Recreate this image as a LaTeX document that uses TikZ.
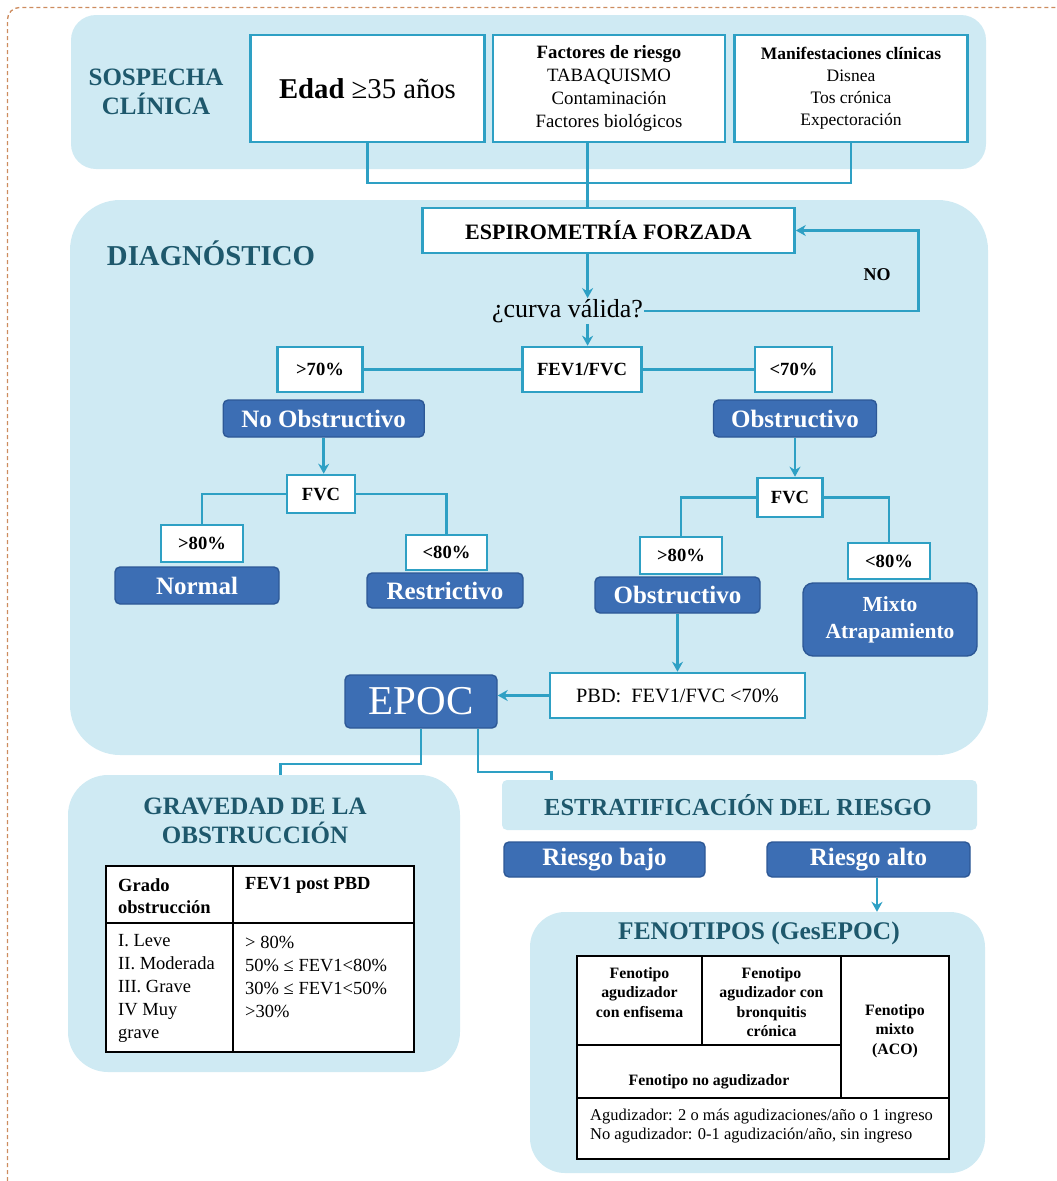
\documentclass[tikz,border=0pt]{standalone}
\usepackage{fontspec}
\setmainfont{Liberation Serif}
\usetikzlibrary{arrows.meta}
\newcommand\fsz[2]{\fontsize{#1}{#2}\selectfont}
\definecolor{panelc}{RGB}{207,234,243}
\definecolor{tealc}{RGB}{46,160,196}
\definecolor{dbluec}{RGB}{60,110,180}
\definecolor{dblueb}{RGB}{45,88,150}
\definecolor{hdrc}{RGB}{30,88,108}
\definecolor{dashc}{RGB}{205,140,95}
\begin{document}
\begin{tikzpicture}[x=1pt,y=-1pt,
  panel/.style={fill=panelc, draw=none, inner sep=0pt},
  wbox/.style={draw=tealc, line width=2.6pt, fill=white, inner sep=0pt, align=center},
  bbox/.style={fill=dbluec, draw=dblueb, line width=1.4pt, rounded corners=5pt,
    text=white, inner sep=0pt, align=center, font=\bfseries\fsz{25}{29}},
  conn/.style={draw=tealc, line width=2.6pt},
  arr/.style={conn, -{Stealth[length=10pt,width=11pt]}},
  hdr/.style={text=hdrc, inner sep=0pt, align=center},
  pct/.style={font=\bfseries\fsz{18.6}{22}},
  tabline/.style={draw=black, line width=2pt},
  ft/.style={font=\bfseries\fsz{15.8}{19.3}, align=center, inner sep=0pt},
  cellt/.style={inner sep=0pt, align=left, anchor=west}]

\useasboundingbox (0,0) rectangle (1057,1181);

% outer dashed frame (top and left edges)
\draw[dashc, line width=1.3pt, dash pattern=on 4pt off 3pt, rounded corners=12pt]
  (7.5,1181) -- (7.5,7.5) -- (1057,7.5);

% background panels
\node[panel, minimum width=915pt, minimum height=154pt, rounded corners=25pt] (psos) at (528.5,92) {};
\node[panel, minimum width=918pt, minimum height=555pt, rounded corners=50pt] (pdiag) at (529,477.5) {};
\node[panel, minimum width=392pt, minimum height=297pt, rounded corners=40pt] (pgrav) at (264,923.5) {};
\node[panel, minimum width=475pt, minimum height=50pt, rounded corners=5pt] (pestr) at (739.5,805) {};
\node[panel, minimum width=455pt, minimum height=261pt, rounded corners=35pt] (pfen) at (757.5,1042.5) {};

% section headings
\node[hdr, font=\bfseries\fsz{25}{29}] (tsos) at (156,92) {SOSPECHA\\CLÍNICA};
\node[hdr, font=\bfseries\fsz{28.8}{34}] (tdiag) at (211,253) {DIAGNÓSTICO};
\node[hdr, font=\bfseries\fsz{25}{29}] (tgrav) at (255,820.5) {GRAVEDAD DE LA\\OBSTRUCCIÓN};
\node[hdr, font=\bfseries\fsz{24.5}{28}] (testr) at (738,805) {ESTRATIFICACIÓN DEL RIESGO};
\node[hdr, font=\bfseries\fsz{25.4}{30}] (tfen) at (759,933) {FENOTIPOS (GesEPOC)};

% clinical suspicion boxes
\node[wbox, minimum width=234pt, minimum height=107pt, font=\fsz{28.7}{34}] (edad) at (367.5,88.5)
  {\textbf{Edad} ≥35 años};
\node[wbox, minimum width=232pt, minimum height=107pt, font=\fsz{18.8}{23}] (riesgo) at (609,88.5)
  {\textbf{Factores de riesgo}\\TABAQUISMO\\Contaminación\\Factores biológicos};
\node[wbox, minimum width=233pt, minimum height=107pt, font=\fsz{17.5}{22}] (manif) at (851,88.5)
  {\textbf{Manifestaciones clínicas}\\Disnea\\Tos crónica\\Expectoración};

% spirometry and validity check
\node[wbox, minimum width=372pt, minimum height=45pt, font=\bfseries\fsz{22}{26}] (esp) at (608.5,230.5)
  {ESPIROMETRÍA FORZADA};
\node[inner sep=1pt, font=\fsz{26}{30}] (curva) at (567.5,311) {¿curva válida?};
\node[font=\bfseries\fsz{18}{20}, inner sep=0pt] (nolab) at (877,275) {NO};

\coordinate (trunk) at (587.6,183);
\coordinate (loopx) at (918.5,0);
\draw[conn] (edad.south) -- (edad.south |- trunk) -| (manif.south);
\draw[conn] (riesgo.south -| trunk) -- (esp.north -| trunk);
\draw[arr] (esp.south -| trunk) -- (curva.north -| trunk);
\draw[arr] (curva.east) -- (curva.east -| loopx) -- (esp.east -| loopx) -- (esp.east);

% FEV1/FVC ratio
\node[wbox, pct, minimum width=119pt, minimum height=45pt] (fev) at (582,369.5) {FEV1/FVC};
\node[wbox, pct, minimum width=85pt, minimum height=45pt] (p70) at (320,369.5) {>70\%};
\node[wbox, pct, minimum width=77pt, minimum height=45pt] (m70) at (793.5,369.5) {<70\%};
\draw[arr] (curva.south -| trunk) -- (fev.north -| trunk);
\draw[conn] (fev.west) -- (p70.east);
\draw[conn] (fev.east) -- (m70.west);

\node[bbox, minimum width=201pt, minimum height=37pt] (nob) at (323.7,418.5) {No Obstructivo};
\node[bbox, minimum width=163pt, minimum height=37pt] (obs) at (795,418.5) {Obstructivo};

% FVC branches
\node[wbox, pct, minimum width=68pt, minimum height=38pt] (fvcL) at (321,494) {FVC};
\node[wbox, pct, minimum width=65pt, minimum height=39pt] (fvcR) at (790,497.5) {FVC};
\draw[arr] (nob.south) -- (nob.south |- fvcL.north);
\draw[arr] (obs.south) -- (obs.south |- fvcR.north);

\node[wbox, pct, minimum width=82pt, minimum height=37pt] (g80L) at (202,543.5) {>80\%};
\node[wbox, pct, minimum width=81pt, minimum height=35pt] (l80L) at (446.5,552.5) {<80\%};
\node[wbox, pct, minimum width=82pt, minimum height=37pt] (g80R) at (681,555.5) {>80\%};
\node[wbox, pct, minimum width=82pt, minimum height=36pt] (l80R) at (889,561) {<80\%};
\draw[conn] (fvcL.west) -| (g80L.north);
\draw[conn] (fvcL.east) -| (l80L.north);
\draw[conn] (fvcR.west) -| (g80R.north);
\draw[conn] (fvcR.east) -| (l80R.north);

\node[bbox, minimum width=164pt, minimum height=37pt] (normal) at (197,585.5) {Normal};
\node[bbox, minimum width=156pt, minimum height=35pt] (restr) at (445,590.5) {Restrictivo};
\node[bbox, minimum width=165pt, minimum height=36pt] (obs2) at (677.5,595) {Obstructivo};
\node[bbox, minimum width=174pt, minimum height=73pt, rounded corners=10pt,
  font=\bfseries\fsz{21.5}{27}] (mixto) at (890,619.5) {Mixto\\Atrapamiento};

% bronchodilator test and diagnosis
\node[wbox, minimum width=255pt, minimum height=45pt, font=\fsz{20.3}{24}] (pbd) at (677.5,695.5)
  {PBD:\ \ FEV1/FVC <70\%};
\node[bbox, minimum width=152pt, minimum height=53pt, font=\fsz{41}{46}] (epoc) at (421,701.5) {EPOC};
\draw[arr] (obs2.south) -- (obs2.south |- pbd.north);
\draw[arr] (pbd.west) -- (pbd.west -| epoc.east);

\coordinate (jl) at (280.6,764);
\coordinate (jr1) at (478,772);
\coordinate (jr2) at (551.6,772);
\draw[conn] (epoc.south) |- (jl) -- (jl |- pgrav.north);
\draw[conn] (jr1 |- epoc.south) -- (jr1) -- (jr2) -- (jr2 |- pestr.north);

% severity table
\filldraw[tabline, fill=white] (106,866) rectangle (414,1052);
\draw[tabline] (233,866) -- (233,1052);
\draw[tabline] (106,923) -- (414,923);
\node[cellt, font=\bfseries\fsz{18.5}{22}] (gh1) at (118,896) {Grado\\obstrucción};
\node[cellt, font=\bfseries\fsz{18.5}{22}] (gh2) at (245,885) {FEV1 post PBD};
\node[cellt, font=\fsz{18.5}{23}] (gc1) at (118,988) {I. Leve\\II. Moderada\\III. Grave\\IV Muy\\grave};
\node[cellt, font=\fsz{18.5}{23}] (gc2) at (245,976.5) {> 80\%\\50\% ≤ FEV1<80\%\\30\% ≤ FEV1<50\%\\>30\%};

% risk stratification
\node[bbox, minimum width=201pt, minimum height=35pt] (rb) at (604.5,859.5) {Riesgo bajo};
\node[bbox, minimum width=203pt, minimum height=35pt] (ra) at (868.5,859.5) {Riesgo alto};
\coordinate (rax) at (877,0);
\draw[arr] (ra.south -| rax) -- (pfen.north -| rax);

% phenotype table
\filldraw[tabline, fill=white] (577,956) rectangle (949,1159);
\draw[tabline] (702,956) -- (702,1045);
\draw[tabline] (841,956) -- (841,1098);
\draw[tabline] (577,1045) -- (841,1045);
\draw[tabline] (577,1098) -- (949,1098);
\node[ft] (f1) at (639.5,992.5) {Fenotipo\\agudizador\\con enfisema};
\node[ft] (f2) at (771.5,1002) {Fenotipo\\agudizador con\\bronquitis\\crónica};
\node[ft] (f3) at (895,1031) {Fenotipo\\mixto\\(ACO)};
\node[ft] (f4) at (709,1082) {Fenotipo no agudizador};
\node[cellt, font=\fsz{16.5}{19}] (fnote) at (590,1126.5)
  {Agudizador: 2 o más agudizaciones/año o 1 ingreso\\No agudizador: 0-1 agudización/año, sin ingreso};
\end{tikzpicture}
\end{document}
